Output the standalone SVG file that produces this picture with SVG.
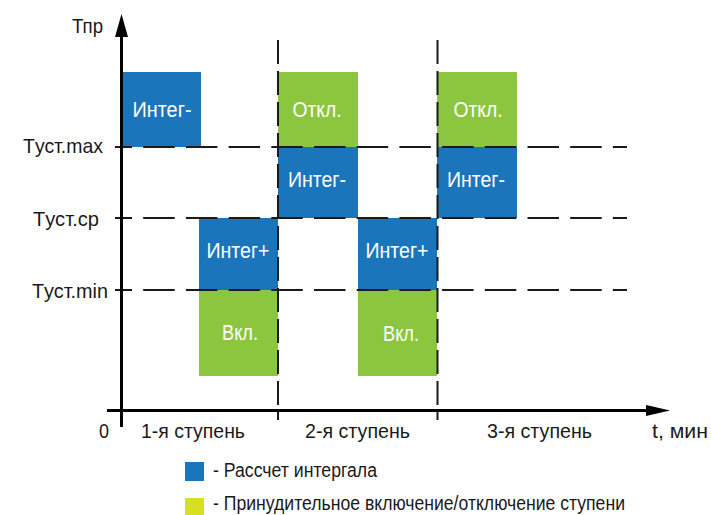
<svg xmlns="http://www.w3.org/2000/svg" width="711" height="515" viewBox="0 0 711 515">
<style>
text{font-family:"Liberation Sans",Arial,sans-serif;fill:#1a1a1a;font-size:21px}
.lbl{fill:#fff;text-anchor:middle;font-size:22px}
.blue{fill:#1b75bb}
.green{fill:#8cc63f}
.dash{stroke:#1a1a1a;stroke-width:2;fill:none;stroke-dasharray:31.5 11.2}
.axis{stroke:#000;stroke-width:3;fill:none}
.leg{font-size:20px}
</style>
<rect width="711" height="515" fill="#fff"/>
<g id="blocks">
<g id="b1-integ-minus"><rect class="blue" x="123" y="72" width="78" height="75"/><text class="lbl" x="162" y="117" textLength="59" lengthAdjust="spacingAndGlyphs">Интег-</text></g>
<g id="b1-integ-plus"><rect class="blue" x="199" y="218" width="79" height="72"/><text class="lbl" x="238" y="258" textLength="63" lengthAdjust="spacingAndGlyphs">Интег+</text></g>
<g id="b1-vkl"><rect class="green" x="199" y="290" width="79" height="86"/><text class="lbl" x="240" y="340" textLength="36" lengthAdjust="spacingAndGlyphs">Вкл.</text></g>
<g id="b2-otkl"><rect class="green" x="278" y="72" width="80" height="75"/><text class="lbl" x="317" y="117" textLength="49" lengthAdjust="spacingAndGlyphs">Откл.</text></g>
<g id="b2-integ-minus"><rect class="blue" x="278" y="147" width="80" height="71"/><text class="lbl" x="317" y="187" textLength="58" lengthAdjust="spacingAndGlyphs">Интег-</text></g>
<g id="b2-integ-plus"><rect class="blue" x="358" y="218" width="79" height="72"/><text class="lbl" x="397" y="258" textLength="63" lengthAdjust="spacingAndGlyphs">Интег+</text></g>
<g id="b2-vkl"><rect class="green" x="358" y="290" width="79" height="86"/><text class="lbl" x="401" y="341" textLength="36" lengthAdjust="spacingAndGlyphs">Вкл.</text></g>
<g id="b3-otkl"><rect class="green" x="437" y="72" width="80" height="75"/><text class="lbl" x="478" y="117" textLength="49" lengthAdjust="spacingAndGlyphs">Откл.</text></g>
<g id="b3-integ-minus"><rect class="blue" x="437" y="147" width="80" height="71"/><text class="lbl" x="476" y="187" textLength="58" lengthAdjust="spacingAndGlyphs">Интег-</text></g>
</g>
<g id="connectors">
<line class="dash" x1="115" y1="147" x2="627" y2="147" stroke-dashoffset="14.5"/>
<line class="dash" x1="115" y1="218" x2="627" y2="218" stroke-dashoffset="14.5"/>
<line class="dash" x1="115" y1="290" x2="627" y2="290" stroke-dashoffset="14.5"/>
<line class="dash" x1="278" y1="40" x2="278" y2="420" style="stroke-dasharray:24 7"/>
<line class="dash" x1="437.5" y1="40" x2="437.5" y2="420" style="stroke-dasharray:24 7"/>
<line class="axis" x1="121.5" y1="34" x2="121.5" y2="427"/>
<polygon points="121.5,14 115,37 128,37" fill="#000"/>
<line class="axis" x1="107" y1="410.5" x2="650" y2="410.5"/>
<polygon points="670,410.5 646,405 646,416" fill="#000"/>
</g>
<g id="axis-labels">
<text x="72" y="33" textLength="31" lengthAdjust="spacingAndGlyphs">Тпр</text>
<text x="23" y="153" textLength="80" lengthAdjust="spacingAndGlyphs">Tуст.max</text>
<text x="33" y="226" textLength="66" lengthAdjust="spacingAndGlyphs">Tуст.ср</text>
<text x="32" y="298" textLength="76" lengthAdjust="spacingAndGlyphs">Tуст.min</text>
<text x="99" y="438" textLength="10" lengthAdjust="spacingAndGlyphs">0</text>
<text x="141" y="438" textLength="104" lengthAdjust="spacingAndGlyphs">1-я ступень</text>
<text x="305" y="438" textLength="105" lengthAdjust="spacingAndGlyphs">2-я ступень</text>
<text x="487" y="438" textLength="105" lengthAdjust="spacingAndGlyphs">3-я ступень</text>
<text x="652" y="438" textLength="56" lengthAdjust="spacingAndGlyphs">t, мин</text>
</g>
<g id="legend">
<rect x="185" y="462" width="19" height="19" fill="#1b75bb"/>
<text class="leg" x="213" y="477" textLength="164" lengthAdjust="spacingAndGlyphs">- Рассчет интергала</text>
<rect x="185" y="498" width="19" height="19" fill="#d7df21"/>
<text class="leg" x="213" y="510" textLength="412" lengthAdjust="spacingAndGlyphs">- Принудительное включение/отключение ступени</text>
</g>
</svg>
